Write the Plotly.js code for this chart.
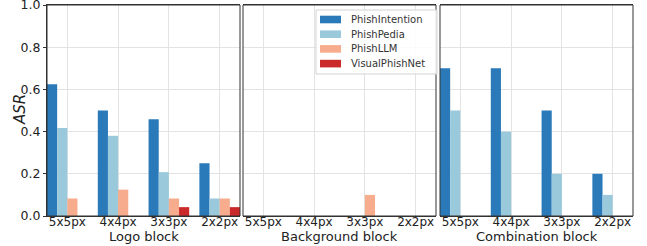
<!DOCTYPE html>
<html><head><meta charset="utf-8">
<script src="https://cdn.plot.ly/plotly-3.0.1.min.js"></script>
<style>html,body{margin:0;padding:0;background:#fff}#c{width:647px;height:246px}</style>
</head><body><div id="c"></div>
<script>
const categories = ["5x5px","4x4px","3x3px","2x2px"];
const panels = ["Logo block","Background block","Combination block"];
const methods = ["PhishIntention","PhishPedia","PhishLLM","VisualPhishNet"];
const colors = ["#2a7ab9","#9bc9dc","#f7ac8d","#cb2a2a"];
// values per panel, per method
const logoPhishIntention = [0.625,0.5,0.458,0.25];
const logoPhishPedia = [0.417,0.38,0.208,0.083];
const logoPhishLLM = [0.083,0.125,0.083,0.083];
const logoVisualPhishNet = [0,0,0.042,0.042];
const bgPhishIntention = [0,0,0,0];
const bgPhishPedia = [0,0,0,0];
const bgPhishLLM = [0,0,0.1,0];
const bgVisualPhishNet = [0,0,0,0];
const combPhishIntention = [0.7,0.7,0.5,0.2];
const combPhishPedia = [0.5,0.4,0.2,0.1];
const combPhishLLM = [0,0,0,0];
const combVisualPhishNet = [0,0,0,0];
const yTicks = [0,0.2,0.4,0.6,0.8,1.0];
const yTitle = "ASR";

const data = [
  [logoPhishIntention,logoPhishPedia,logoPhishLLM,logoVisualPhishNet],
  [bgPhishIntention,bgPhishPedia,bgPhishLLM,bgVisualPhishNet],
  [combPhishIntention,combPhishPedia,combPhishLLM,combVisualPhishNet]
];
const traces = [];
data.forEach((panel,pi)=>{
  panel.forEach((vals,mi)=>{
    traces.push({
      type:"bar", x:categories, y:vals, name:methods[mi],
      marker:{color:colors[mi], line:{width:0}},
      xaxis: pi===0?"x":"x"+(pi+1), yaxis:"y",
      showlegend:false,
      offsetgroup: String(mi)
    });
  });
});
const W=586, H=211, L=47, T=5;
const px=x=>(x-L)/W, py=y=>(T+H-y)/H;
const doms=[[0,193/W],[196/W,389/W],[393/W,1]];
const font={family:"DejaVu Sans, sans-serif", size:12, color:"#222"};
function xa(i){
  return {domain:doms[i], anchor:"y", type:"category", range:[-0.4,3.4],
    showgrid:true, gridcolor:"#e3e3e3", gridwidth:1,
    showline:true, mirror:true, linecolor:"#333", linewidth:1,
    ticks:"", tickfont:{size:12,color:"#222"}, zeroline:false, ticklabelstandoff:-5};
}
const shapes = [0,1,2].map(i=>({type:"rect", xref:"paper", yref:"paper", x0:doms[i][0], x1:doms[i][1], y0:0, y1:1, line:{color:"#333",width:1}}));
const annotations = panels.map((p,i)=>({text:p, xref:(i===0?"x":"x"+(i+1))+" domain", yref:"paper", x:0.5, y:py(236.5), xanchor:"center", yanchor:"middle", showarrow:false, font:{size:13,color:"#222"}}));
annotations.push({text:"<i>"+yTitle+"</i>", xref:"paper", yref:"paper", x:px(20), y:py(110), xanchor:"center", yanchor:"middle", textangle:-90, showarrow:false, font:{size:15,color:"#222"}});
// legend (drawn as shapes + text)
shapes.push({type:"rect", xref:"paper", yref:"paper", x0:px(316), x1:px(437), y0:py(74), y1:py(10), line:{color:"#d3d3d3",width:1}, fillcolor:"rgba(255,255,255,0.85)", layer:"above"});
methods.forEach((m,i)=>{
  const cy = 19.5 + 14.7*i;
  shapes.push({type:"rect", xref:"paper", yref:"paper", x0:px(320), x1:px(341), y0:py(cy+3.8), y1:py(cy-3.8), fillcolor:colors[i], line:{width:0}, layer:"above"});
  annotations.push({text:m, xref:"paper", yref:"paper", x:px(349), y:py(cy), xanchor:"left", yanchor:"middle", showarrow:false, font:{size:10,color:"#333"}});
});
const layout = {
  width:647, height:246, margin:{l:L,r:14,t:T,b:30},
  paper_bgcolor:"#fff", plot_bgcolor:"#fff", font:font, showlegend:false,
  barmode:"group", bargap:0.2, bargroupgap:0,
  xaxis:xa(0), xaxis2:xa(1), xaxis3:xa(2),
  yaxis:{range:[0,1], tickvals:yTicks, ticktext:yTicks.map(v=>v.toFixed(1)),
    showgrid:true, gridcolor:"#e3e3e3", showline:true, linecolor:"#333", linewidth:1,
    ticks:"outside", ticklen:3, tickcolor:"#333", zeroline:false, ticklabeloverflow:"allow",
    tickfont:{size:12.5,color:"#222"}},
  shapes:shapes, annotations:annotations
};
Plotly.newPlot("c", traces, layout, {displayModeBar:false, staticPlot:true});
</script></body></html>
